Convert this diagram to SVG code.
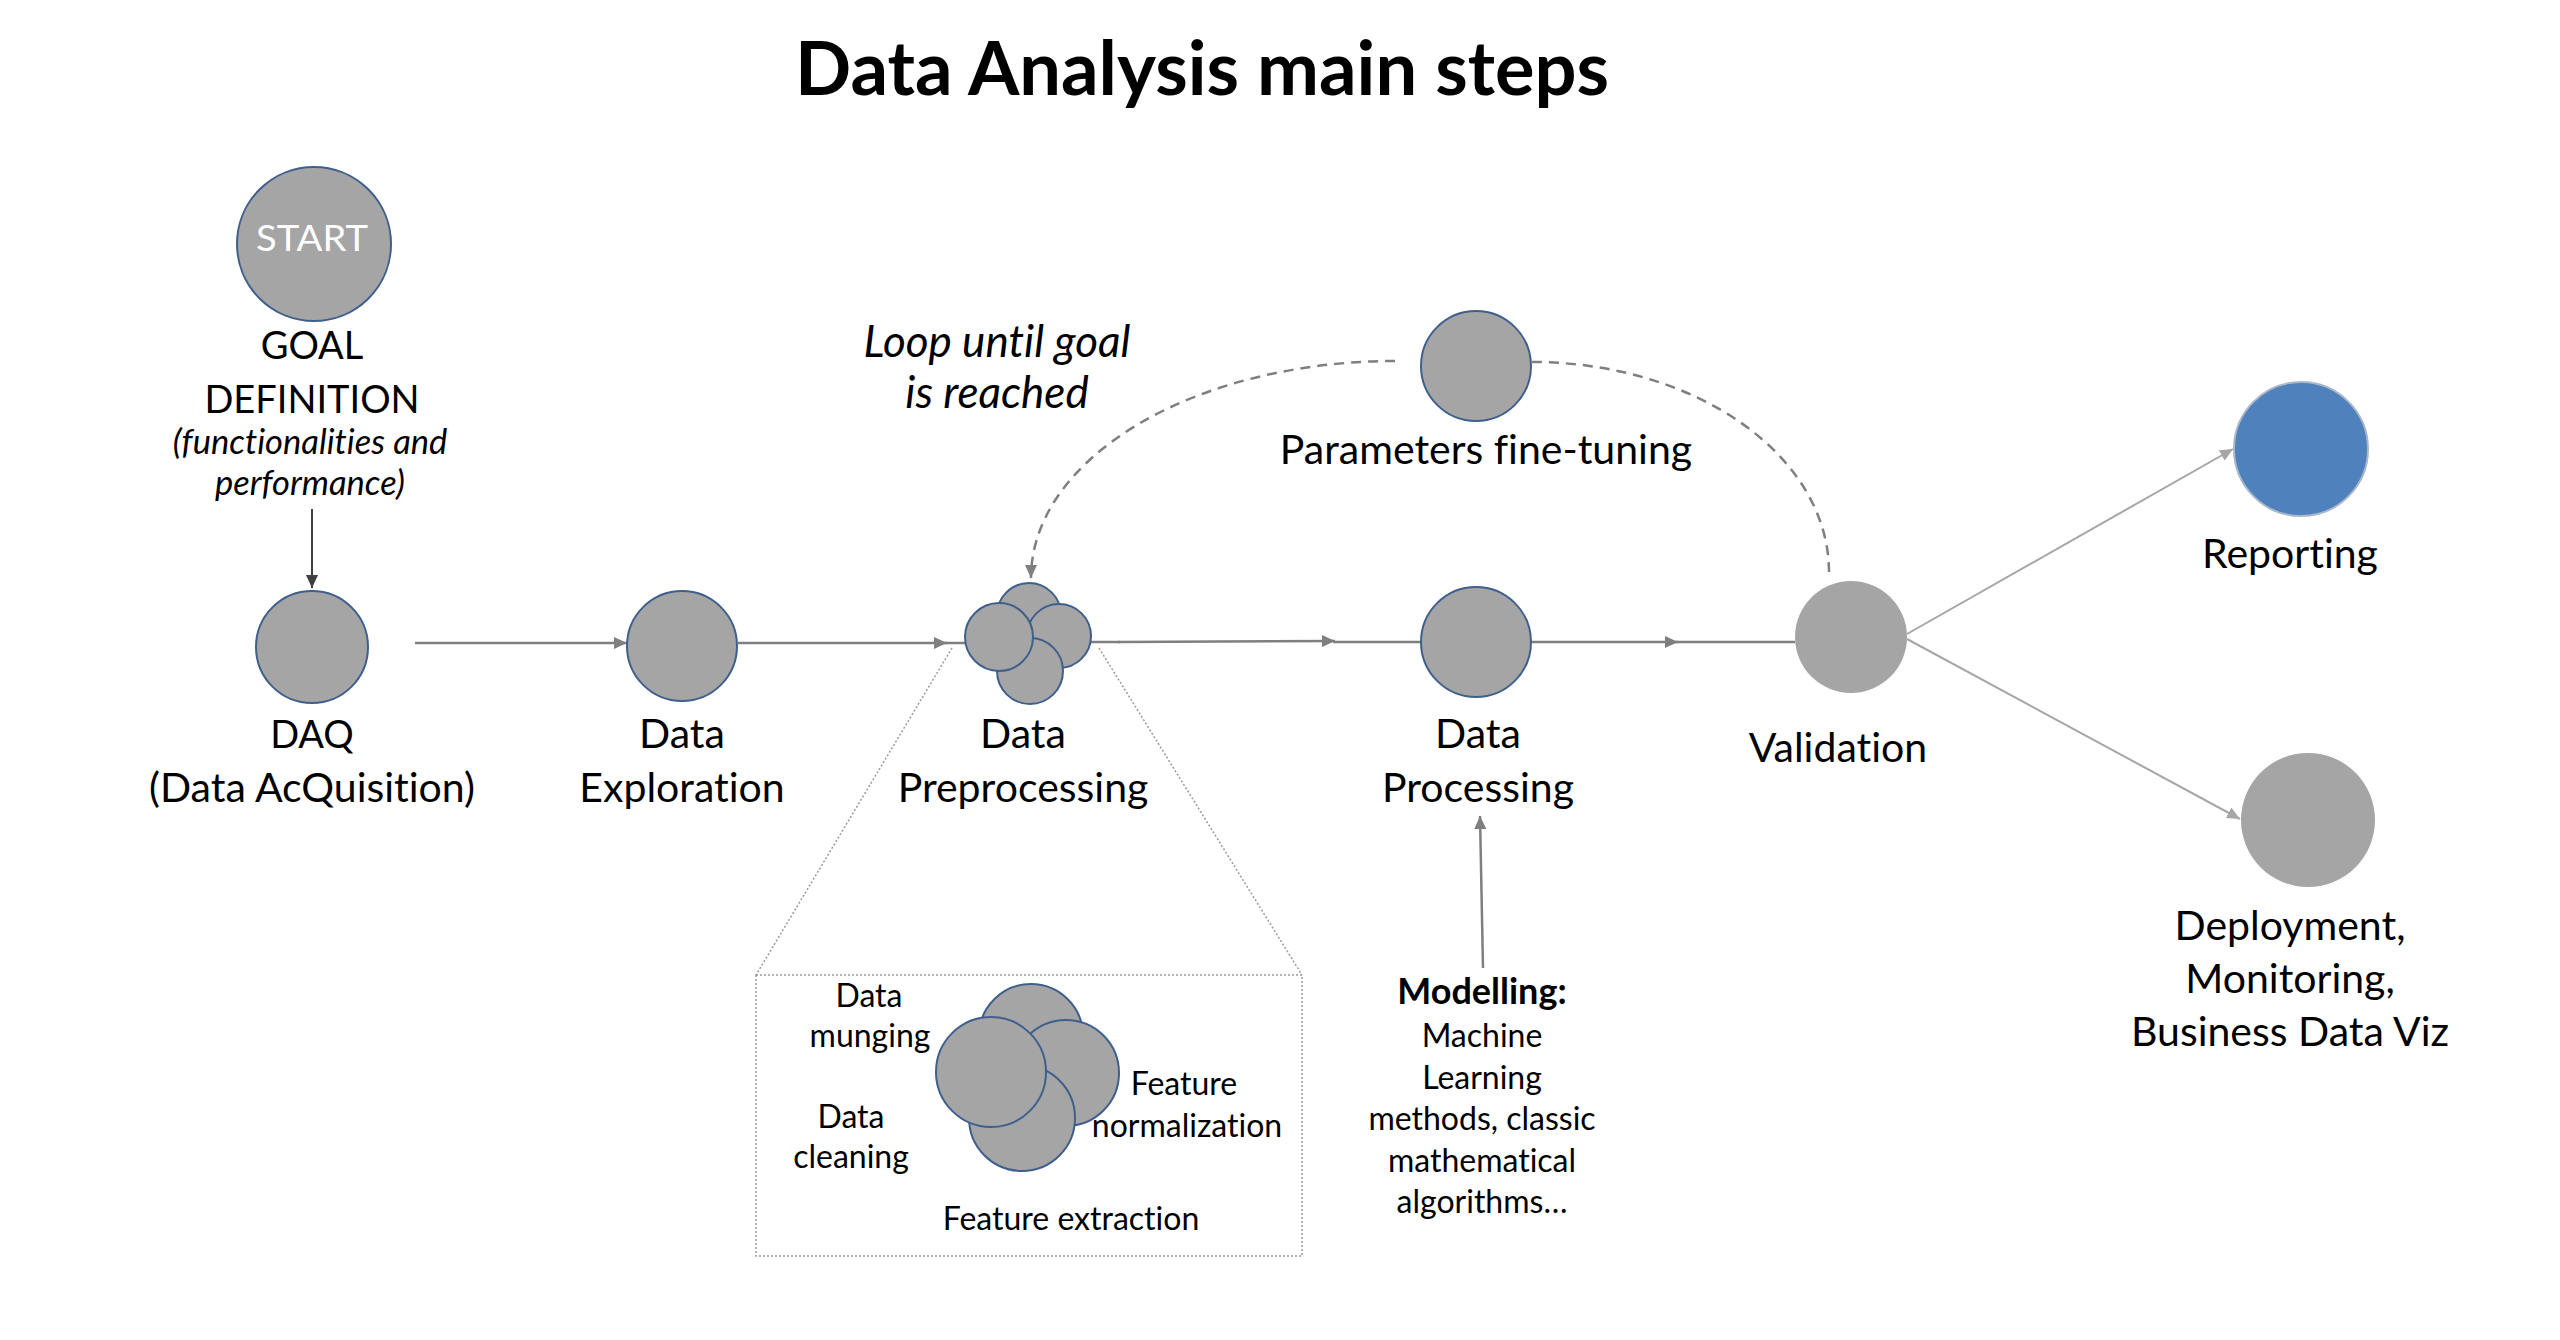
<svg xmlns="http://www.w3.org/2000/svg" width="2560" height="1340" viewBox="0 0 2560 1340">
<style>
text { font-family: Lato, "Liberation Sans", sans-serif; fill: #000; text-anchor: middle; font-variant-ligatures: none; }
.t { font-size: 41px; }
.u { font-size: 38px; }
.s { font-size: 32px; }
.si { font-size: 34.5px; font-style: italic; }
.li { font-size: 44px; font-style: italic; }
.title { font-size: 74px; font-weight: bold; }
.n { fill: #a5a5a5; stroke: #3f5f8c; stroke-width: 2; }
.v { fill: #a5a5a5; }
.r { fill: #4f81bd; stroke: #a9b8c8; stroke-width: 2; }
.ln { fill: none; stroke: #7f7f7f; stroke-width: 2.5; }
.lt { fill: none; stroke: #a6a6a6; stroke-width: 2; }
.dash { fill: none; stroke: #7f7f7f; stroke-width: 2.5; stroke-dasharray: 10 7; }
.dot { fill: none; stroke: #9a9a9a; stroke-width: 1.5; stroke-dasharray: 2 2; }
</style>
<defs>
<marker id="ag" markerUnits="userSpaceOnUse" markerWidth="14" markerHeight="12" refX="13" refY="6" orient="auto"><path d="M0,0 L13,6 L0,12 z" fill="#7f7f7f"/></marker>
<marker id="al" markerUnits="userSpaceOnUse" markerWidth="14" markerHeight="12" refX="13" refY="6" orient="auto"><path d="M0,0 L13,6 L0,12 z" fill="#a6a6a6"/></marker>
<marker id="ad" markerUnits="userSpaceOnUse" markerWidth="14" markerHeight="12" refX="13" refY="6" orient="auto"><path d="M0,0 L13,6 L0,12 z" fill="#404040"/></marker>
</defs>
<rect width="2560" height="1340" fill="#fff"/>
<text class="title" x="1202" y="95">Data Analysis main steps</text>

<g id="connectors">
<line x1="312" y1="509" x2="312" y2="588" stroke="#404040" stroke-width="2" marker-end="url(#ad)"/>
<line class="ln" x1="415" y1="643" x2="627" y2="643" marker-end="url(#ag)"/>
<line class="ln" x1="738" y1="643" x2="947" y2="643" marker-end="url(#ag)"/>
<line class="ln" x1="945" y1="643" x2="965" y2="643"/>
<line class="ln" x1="1091" y1="642" x2="1120" y2="642"/>
<line class="ln" x1="1118" y1="642" x2="1335" y2="641" stroke-width="4" marker-end="url(#ag)"/>
<line class="ln" x1="1333" y1="642" x2="1422" y2="642"/>
<line class="ln" x1="1532" y1="642" x2="1678" y2="642" marker-end="url(#ag)"/>
<line class="ln" x1="1676" y1="642" x2="1795" y2="642"/>
<path class="dash" d="M1395,361 A364,217 0 0 0 1031,578" marker-end="url(#ag)"/>
<path class="dash" d="M1532,362 A297,210 0 0 1 1829,572"/>
<line class="ln" x1="1483" y1="968" x2="1480" y2="816" marker-end="url(#ag)"/>
<line class="lt" x1="1907" y1="634" x2="2233" y2="449" marker-end="url(#al)"/>
<line class="lt" x1="1907" y1="639" x2="2240" y2="819" marker-end="url(#al)"/>
<line class="dot" x1="952" y1="648" x2="756" y2="975"/>
<line class="dot" x1="1099" y1="648" x2="1302" y2="975"/>
</g>

<g id="start">
<circle class="n" cx="314" cy="244" r="77"/>
<text x="312" y="251" style="font-size:37px;fill:#fff" textLength="112" lengthAdjust="spacingAndGlyphs">START</text>
<text class="u" x="312" y="359">GOAL</text>
<text class="u" x="312" y="413">DEFINITION</text>
<text class="si" x="310" y="454">(functionalities and</text>
<text class="si" x="310" y="495">performance)</text>
</g>

<g id="daq">
<circle class="n" cx="312" cy="647" r="56"/>
<text class="u" x="312" y="748">DAQ</text>
<text class="t" x="312" y="802">(Data AcQuisition)</text>
</g>

<g id="exploration">
<circle class="n" cx="682" cy="646" r="55"/>
<text class="t" x="682" y="748">Data</text>
<text class="t" x="682" y="802">Exploration</text>
</g>

<g id="preprocessing">
<circle class="n" cx="1029" cy="615" r="32"/>
<circle class="n" cx="1059" cy="636" r="32"/>
<circle class="n" cx="1030" cy="671" r="33"/>
<circle class="n" cx="999" cy="637" r="34"/>
<text class="t" x="1023" y="748">Data</text>
<text class="t" x="1023" y="802">Preprocessing</text>
</g>

<g id="preprocessing-detail">
<rect class="dot" x="756" y="975" width="546" height="281"/>
<circle class="n" cx="1031" cy="1036" r="52"/>
<circle class="n" cx="1066" cy="1073" r="53"/>
<circle class="n" cx="1022" cy="1118" r="53"/>
<circle class="n" cx="991" cy="1072" r="55"/>
<text class="s" x="869" y="1007">Data</text>
<text class="s" x="870" y="1047">munging</text>
<text class="s" x="851" y="1128">Data</text>
<text class="s" x="851" y="1168">cleaning</text>
<text class="s" x="1184" y="1095">Feature</text>
<text class="s" x="1187" y="1137">normalization</text>
<text class="s" x="1071" y="1230">Feature extraction</text>
</g>

<g id="processing">
<circle class="n" cx="1476" cy="642" r="55"/>
<text class="t" x="1478" y="748">Data</text>
<text class="t" x="1478" y="802">Processing</text>
</g>

<g id="modelling">
<text x="1482" y="1004" style="font-size:36px;font-weight:bold">Modelling:</text>
<text class="s" x="1482" y="1047">Machine</text>
<text class="s" x="1482" y="1089">Learning</text>
<text class="s" x="1482" y="1130">methods, classic</text>
<text class="s" x="1482" y="1172">mathematical</text>
<text class="s" x="1482" y="1213">algorithms…</text>
</g>

<g id="loop-label">
<text class="li" x="997" y="357">Loop until goal</text>
<text class="li" x="997" y="408">is reached</text>
</g>

<g id="finetuning">
<circle class="n" cx="1476" cy="366" r="55"/>
<text class="t" x="1486" y="464">Parameters fine-tuning</text>
</g>

<g id="validation">
<circle class="v" cx="1851" cy="637" r="56"/>
<text class="t" x="1838" y="762">Validation</text>
</g>

<g id="reporting">
<circle class="r" cx="2301" cy="449" r="67"/>
<text class="t" x="2290" y="568">Reporting</text>
</g>

<g id="deployment">
<circle class="v" cx="2308" cy="820" r="67"/>
<text class="t" x="2290" y="940">Deployment,</text>
<text class="t" x="2290" y="993">Monitoring,</text>
<text class="t" x="2290" y="1046">Business Data Viz</text>
</g>
</svg>
